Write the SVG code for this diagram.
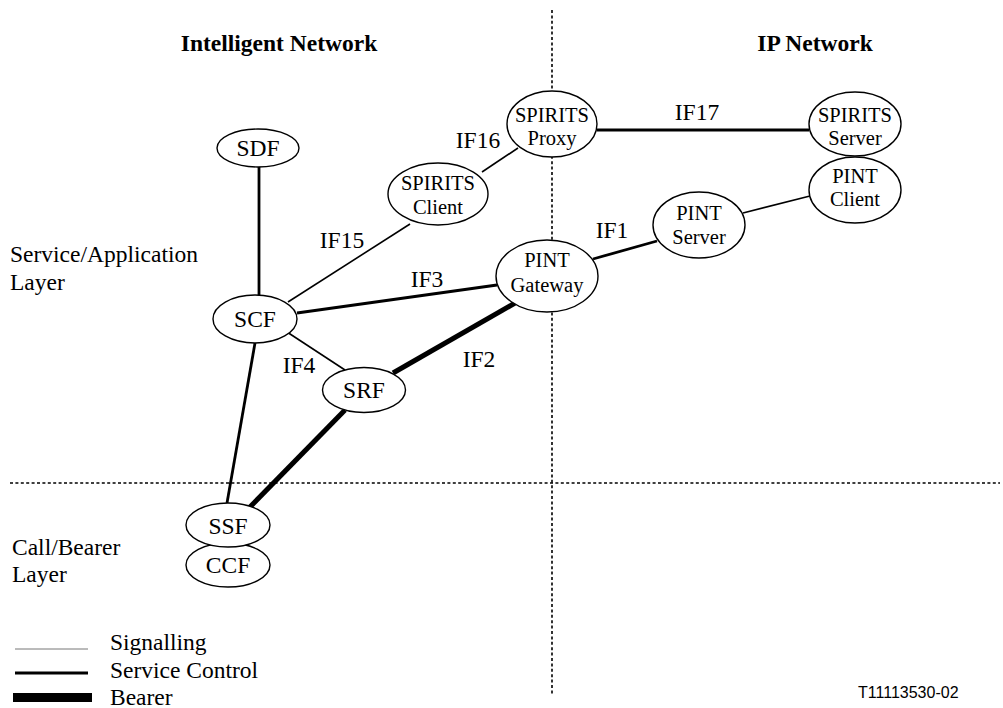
<svg xmlns="http://www.w3.org/2000/svg" width="1003" height="708" viewBox="0 0 1003 708">
<style>
text{font-family:"Liberation Serif","Times New Roman",serif;fill:#000}
.h{font-size:23.5px;font-weight:bold;text-anchor:middle}
.t{font-size:23.5px}
.n{font-size:23.5px;text-anchor:middle}
.n2{font-size:20.5px;text-anchor:middle}
.lb{font-size:23.5px;text-anchor:middle}
ellipse{fill:#fff;stroke:#000;stroke-width:1.4}
.dot{stroke:#000;stroke-width:1.6;stroke-dasharray:3 2.4;fill:none}
.sig{stroke:#000;stroke-width:1.6;fill:none}
.ctl{stroke:#000;stroke-width:2.8;fill:none}
.brr{stroke:#000;stroke-width:5;fill:none}
</style>
<rect width="1003" height="708" fill="#fff"/>
<g id="dividers">
<line class="dot" x1="552" y1="10" x2="552" y2="695"/>
<line class="dot" x1="10" y1="483" x2="1000" y2="483"/>
</g>
<g id="headers">
<text class="h" x="279" y="51">Intelligent Network</text>
<text class="h" x="815" y="51">IP Network</text>
<text class="t" x="10" y="262">Service/Application</text>
<text class="t" x="10" y="290">Layer</text>
<text class="t" x="12" y="555">Call/Bearer</text>
<text class="t" x="12" y="582">Layer</text>
</g>
<g id="connectors">
<line class="ctl" x1="259" y1="166" x2="259" y2="296"/>
<line class="sig" x1="288" y1="302" x2="410" y2="224"/>
<line class="sig" x1="482" y1="172" x2="518" y2="148"/>
<line class="ctl" x1="597" y1="130" x2="809" y2="130"/>
<line class="ctl" x1="297" y1="313" x2="497" y2="285"/>
<line class="sig" x1="287" y1="332" x2="345" y2="370"/>
<line class="brr" x1="393" y1="373" x2="515" y2="303"/>
<line class="brr" x1="345" y1="410" x2="250" y2="507"/>
<line class="ctl" x1="255" y1="343" x2="227" y2="503"/>
<line class="ctl" x1="593" y1="259" x2="657" y2="241"/>
<line class="sig" x1="743" y1="213" x2="810" y2="196"/>
<text class="lb" x="697" y="120">IF17</text>
<text class="lb" x="478" y="148">IF16</text>
<text class="lb" x="342" y="248">IF15</text>
<text class="lb" x="427" y="287">IF3</text>
<text class="lb" x="612" y="238">IF1</text>
<text class="lb" x="299" y="373">IF4</text>
<text class="lb" x="479" y="367">IF2</text>
</g>
<g id="SDF"><ellipse cx="258" cy="148" rx="41" ry="19"/><text class="n" x="258" y="156">SDF</text></g>
<g id="SCF"><ellipse cx="255" cy="319" rx="42" ry="24"/><text class="n" x="255" y="327">SCF</text></g>
<g id="SRF"><ellipse cx="364" cy="390" rx="41.5" ry="22.5"/><text class="n" x="364" y="398">SRF</text></g>
<g id="CCF"><ellipse cx="228" cy="565" rx="42" ry="22"/><text class="n" x="228" y="573">CCF</text></g>
<g id="SSF"><ellipse cx="228" cy="525" rx="42" ry="22"/><text class="n" x="228" y="534">SSF</text></g>
<g id="SPIRITS_Client"><ellipse cx="438" cy="194" rx="50" ry="31"/><text class="n2" x="438" y="190">SPIRITS</text><text class="n2" x="438" y="214">Client</text></g>
<g id="SPIRITS_Proxy"><ellipse cx="552" cy="124" rx="45" ry="33"/><text class="n2" x="552" y="122">SPIRITS</text><text class="n2" x="552" y="145">Proxy</text></g>
<g id="SPIRITS_Server"><ellipse cx="855" cy="124" rx="46" ry="32"/><text class="n2" x="855" y="122">SPIRITS</text><text class="n2" x="855" y="145">Server</text></g>
<g id="PINT_Client"><ellipse cx="855" cy="190" rx="46" ry="33"/><text class="n2" x="855" y="183">PINT</text><text class="n2" x="855" y="206">Client</text></g>
<g id="PINT_Server"><ellipse cx="699" cy="225" rx="46" ry="33"/><text class="n2" x="699" y="220">PINT</text><text class="n2" x="699" y="244">Server</text></g>
<g id="PINT_Gateway"><ellipse cx="547" cy="276" rx="51" ry="36"/><text class="n2" x="547" y="267">PINT</text><text class="n2" x="547" y="292">Gateway</text></g>
<g id="legend">
<line x1="15" y1="649" x2="88" y2="649" stroke="#777" stroke-width="1"/>
<line x1="15" y1="673" x2="88" y2="673" stroke="#000" stroke-width="3"/>
<rect x="13" y="693" width="79" height="9" fill="#000"/>
<text class="t" x="110" y="650">Signalling</text>
<text class="t" x="110" y="678">Service Control</text>
<text class="t" x="110" y="705">Bearer</text>
</g>
<text x="858" y="698" style="font-family:'Liberation Sans',Arial,sans-serif;font-size:16px">T11113530-02</text>
</svg>
